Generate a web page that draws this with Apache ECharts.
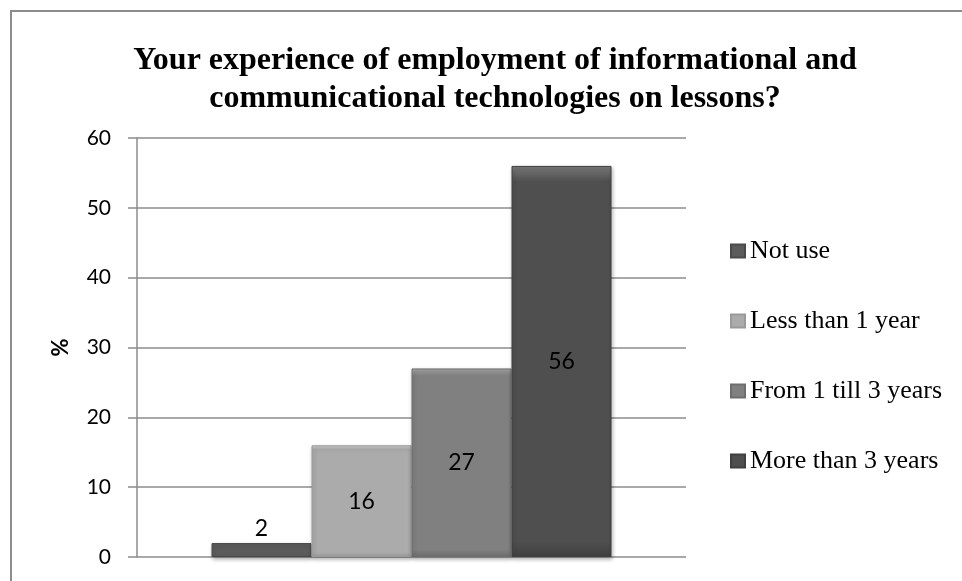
<!DOCTYPE html>
<html>
<head>
<meta charset="utf-8">
<script src="https://cdn.jsdelivr.net/npm/echarts@6/dist/echarts.min.js"></script>
<style>
    html, body { margin: 0; padding: 0; background: #fff; }
    #chart { width: 962px; height: 581px; }
</style>
</head>
<body>
<div id="chart"></div>
<script>
// data
var chartTitle = "Your experience of employment of informational and\ncommunicational technologies on lessons?";
var categories = [""];
var seriesNames = ["Not use", "Less than 1 year", "From 1 till 3 years", "More than 3 years"];
var seriesValues = [2, 16, 27, 56];
var yTicks = { min: 0, max: 60, interval: 10 };
var yName = "%";

// bar tones (top highlight, body, bottom)
var tones = [
    ["#8a8a8a", "#5c5c5c", "#4a4a4a"],
    ["#d2d2d2", "#ababab", "#9a9a9a"],
    ["#a8a8a8", "#808080", "#6e6e6e"],
    ["#7a7a7a", "#4f4f4f", "#404040"]
];

function bevel(t) {
    return new echarts.graphic.LinearGradient(0, 0, 0, 1, [
        { offset: 0, color: t[0] },
        { offset: 0.04, color: t[1] },
        { offset: 0.96, color: t[1] },
        { offset: 1, color: t[2] }
    ]);
}

var chartDom = echarts.init(document.getElementById("chart"));

var series = seriesNames.map(function (name, i) {
    return {
        name: name,
        type: "bar",
        data: [seriesValues[i]],
        barWidth: 100,
        barGap: "0%",
        itemStyle: {
            color: bevel(tones[i]),
            borderColor: tones[i][2],
            borderWidth: 1,
            shadowBlur: 4,
            shadowColor: "rgba(0,0,0,0.3)",
            shadowOffsetX: 1,
            shadowOffsetY: 2
        },
        label: {
            show: true,
            position: seriesValues[i] < 5 ? "top" : "inside",
            distance: 3,
            color: "#000",
            fontFamily: "Lato",
            fontSize: 23
        }
    };
});

var option = {
    animation: false,
    color: tones.map(function (t) { return t[1]; }),
    title: {
        text: chartTitle,
        left: 490,
        top: 37,
        textAlign: "center",
        textStyle: {
            fontFamily: "Liberation Serif",
            fontWeight: "bold",
            fontSize: 32,
            lineHeight: 38,
            color: "#000"
        }
    },
    legend: {
        orient: "vertical",
        left: 725,
        top: 233,
        itemWidth: 14,
        itemHeight: 13,
        itemGap: 44,
        icon: "rect",
        textStyle: {
            fontFamily: "Liberation Serif",
            fontSize: 26,
            lineHeight: 26,
            color: "#000"
        },
        data: seriesNames
    },
    graphic: [
        {
            type: "rect",
            shape: { x: 11, y: 11, width: 1000, height: 1000 },
            style: { fill: null, stroke: "#8c8c8c", lineWidth: 2 },
            silent: true
        }
    ],
    grid: {
        left: 137,
        right: 276,
        top: 138,
        bottom: 24
    },
    xAxis: {
        type: "category",
        data: categories,
        axisLine: { show: false },
        axisTick: { show: false },
        axisLabel: { show: false }
    },
    yAxis: {
        type: "value",
        min: yTicks.min,
        max: yTicks.max,
        interval: yTicks.interval,
        name: yName,
        nameLocation: "middle",
        nameRotate: 90,
        nameGap: 65,
        nameTextStyle: {
            fontFamily: "Lato",
            fontWeight: "bold",
            fontSize: 22,
            color: "#000"
        },
        axisLine: { show: true, lineStyle: { color: "#8c8c8c", width: 1.5 } },
        axisTick: { show: true, length: 9, lineStyle: { color: "#8c8c8c", width: 1.5 } },
        axisLabel: {
            margin: 26,
            fontFamily: "Lato",
            fontSize: 21,
            color: "#000"
        },
        splitLine: { show: true, lineStyle: { color: "#8c8c8c", width: 1.5 } }
    },
    series: series
};

chartDom.setOption(option);
</script>
</body>
</html>
